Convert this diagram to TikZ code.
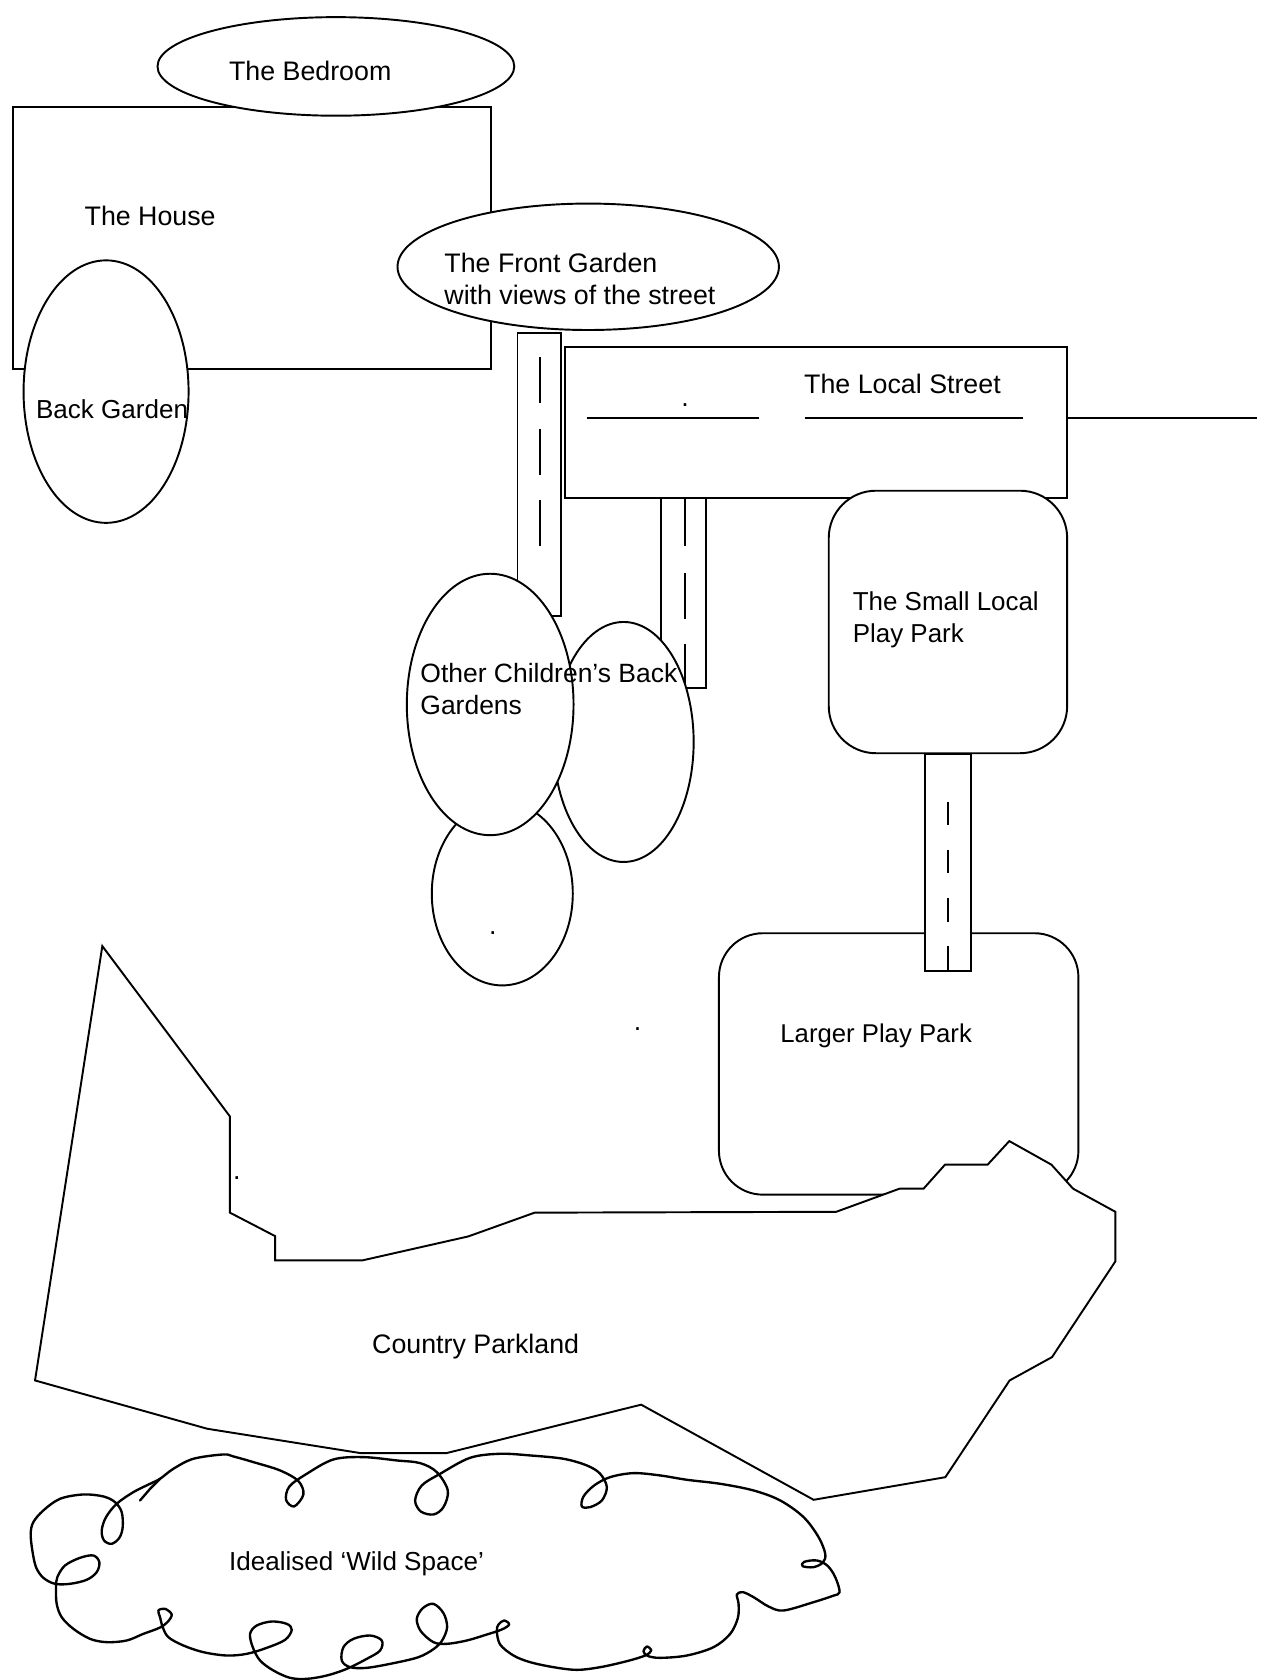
\documentclass[tikz,border=0pt]{standalone}
\usepackage{fontspec}
\setmainfont{Liberation Sans}
\tikzset{
  lbl/.style={anchor=base west, inner sep=0pt, font=\fontsize{12.5}{15}\selectfont},
  dotlbl/.style={anchor=base, inner sep=0pt, font=\fontsize{12.5}{15}\selectfont},
  outline/.style={draw=black, line width=0.9pt, fill=white},
  lane/.style={draw=black, line width=0.8pt},
  cloudline/.style={draw=black, line width=1.1pt, line join=round, line cap=round}
}
\begin{document}
\begin{tikzpicture}[x=0.5pt, y=-0.5pt]
\useasboundingbox[fill=white] (0,0) rectangle (1182,1568);

% The house and its gardens
\path[outline] (12,100) rectangle (458,344);
\path[outline] (313.5,62) ellipse [x radius=166.5, y radius=46];
\path[outline] (99,365.5) ellipse [x radius=77, y radius=122.5];
\path[outline] (549,249) ellipse [x radius=178, y radius=59];

% Roads and street
\path[outline] (483,311) rectangle (524,575);
\draw[lane] (504,333) -- (504,376);
\draw[lane] (504,400) -- (504,443);
\draw[lane] (504,467) -- (504,510);

\path[outline] (527,324) rectangle (996,465);
\draw[lane] (548,390) -- (708,390);
\draw[lane] (751,390) -- (955,390);
\draw[lane] (996,390) -- (1173,390);

\path[outline] (617,465) rectangle (659,642);
\draw[lane] (639,465) -- (639,510);
\draw[lane] (639,535) -- (639,578);
\draw[lane] (639,601) -- (639,642);

% Play parks
\path[outline, rounded corners=22pt] (773.5,458) rectangle (996,703);
\path[outline, rounded corners=20.5pt] (671,871) rectangle (1006.5,1115);
\path[outline] (863,704) rectangle (906.5,906.5);
\draw[lane] (885,748.5) -- (885,770);
\draw[lane] (885,793.5) -- (885,815);
\draw[lane] (885,838.5) -- (885,860.5);
\draw[lane] (885,883) -- (885,906.5);

% Other children's back gardens
\path[outline] (468.8,834) ellipse [x radius=65.8, y radius=85.7];
\path[outline] (582,692.5) ellipse [x radius=65.4, y radius=112];
\path[outline] (457.5,657.5) ellipse [x radius=77.8, y radius=122];

% Country parkland
\path[outline, line join=miter] (95.5,883) -- (214.6,1042) -- (214.6,1131.8) -- (256.8,1153.7)
  -- (256.8,1176.4) -- (338,1176.4) -- (437,1154) -- (499,1131.8) -- (780.5,1131)
  -- (839.6,1109.4) -- (862,1109.4) -- (882,1087) -- (921.8,1087) -- (942,1065)
  -- (981.3,1087) -- (1001.5,1109.4) -- (1041,1131) -- (1041,1177.3) -- (981.9,1266.6)
  -- (942.3,1288.4) -- (882.3,1378.7) -- (759.4,1399.8) -- (598.4,1311) -- (416.8,1356.2)
  -- (336.4,1356.2) -- (193.5,1333.5) -- (32.7,1288.4) -- cycle;

% Idealised wild space (hand-drawn cloud)
\begin{scope}[shift={(0,1344.4)}, scale=0.3112]
\draw[cloudline] plot[smooth cycle, tension=0.55] coordinates {
(480,115) (520,85) (580,55) (670,42) (700,48) (760,65) (840,90) (895,122) (910,162)
(882,198) (858,178) (868,138) (920,100) (1000,57) (1090,50) (1190,60) (1260,68)
(1310,95) (1343,150) (1330,200) (1300,222) (1262,213) (1245,180) (1265,135) (1320,100)
(1410,52) (1500,40) (1590,45) (1690,55) (1760,75) (1800,100) (1820,140) (1805,180)
(1770,200) (1745,198) (1750,168) (1782,135) (1830,110) (1900,98) (1980,105) (2060,118)
(2160,130) (2260,150) (2340,180) (2410,230) (2455,290) (2475,340) (2468,366) (2440,380)
(2407,377) (2412,364) (2450,360) (2482,376) (2505,410) (2518,455) (2498,466) (2440,485)
(2350,510) (2305,498) (2260,470) (2228,455) (2210,462) (2215,490) (2213,532) (2190,580)
(2140,620) (2060,645) (1980,652) (1942,646) (1930,632) (1940,618) (1953,630) (1935,645)
(1880,662) (1800,680) (1730,688) (1660,680) (1590,665) (1540,645) (1500,612) (1490,572)
(1495,552) (1512,540) (1527,552) (1505,567) (1460,582) (1400,600) (1340,610) (1300,605)
(1262,572) (1250,535) (1268,503) (1300,490) (1330,518) (1341,560) (1326,600) (1300,626)
(1255,650) (1180,668) (1100,682) (1050,680) (1025,660) (1030,620) (1060,595) (1110,585)
(1145,600) (1140,630) (1100,655) (1040,685) (980,705) (920,715) (870,712) (820,690)
(780,660) (758,620) (750,580) (770,555) (815,543) (860,550) (875,568) (855,598)
(800,622) (740,640) (680,645) (610,635) (550,615) (505,590) (488,560) (480,530)
(475,510) (495,505) (515,522) (502,545) (478,562) (430,580) (380,600) (320,605)
(270,595) (220,565) (185,530) (170,490) (168,440) (172,410) (195,375) (240,352)
(280,345) (298,365) (290,395) (260,418) (210,430) (165,430) (130,412) (108,380)
(97,330) (92,280) (100,245) (130,210) (180,175) (250,162) (310,168) (345,185)
(365,215) (368,260) (358,292) (335,310) (312,300) (305,270) (318,230) (350,190)
(400,155) (450,130)};
\draw[cloudline] (420,180) -- (452,143) -- (480,115);
\end{scope}

% Labels
\node[lbl] (bedroom) at (213.4,75.6) {The Bedroom};
\node[lbl] (house) at (78.6,210.5) {The House};
\node[lbl, font=\fontsize{12.15}{15}\selectfont] (backgarden) at (33.3,390.2) {Back Garden};
\node[lbl, align=left, anchor=north west] (frontgarden) at (414.4,236) {The Front Garden\\with views of the street};
\node[lbl] (street) at (750.2,367.2) {The Local Street};
\node[lbl, align=left, anchor=north west, font=\fontsize{12.1}{15}\selectfont] (smallpark) at (795.6,551.5) {The Small Local\\Play Park};
\node[lbl, align=left, anchor=north west, font=\fontsize{12.35}{15}\selectfont] (otherkids) at (392,618.4) {Other Children’s Back\\Gardens};
\node[lbl, font=\fontsize{12.0}{15}\selectfont] (largepark) at (728,973) {Larger Play Park};
\node[lbl] (parkland) at (347,1263.5) {Country Parkland};
\node[lbl, font=\fontsize{12.15}{15}\selectfont] (wildspace) at (213.5,1465.8) {Idealised ‘Wild Space’};

\node[dotlbl] (dota) at (639.4,379.5) {.};
\node[dotlbl] (dotb) at (460,872.3) {.};
\node[dotlbl] (dotc) at (595,961.5) {.};
\node[dotlbl] (dotd) at (221,1100.5) {.};
\end{tikzpicture}
\end{document}
